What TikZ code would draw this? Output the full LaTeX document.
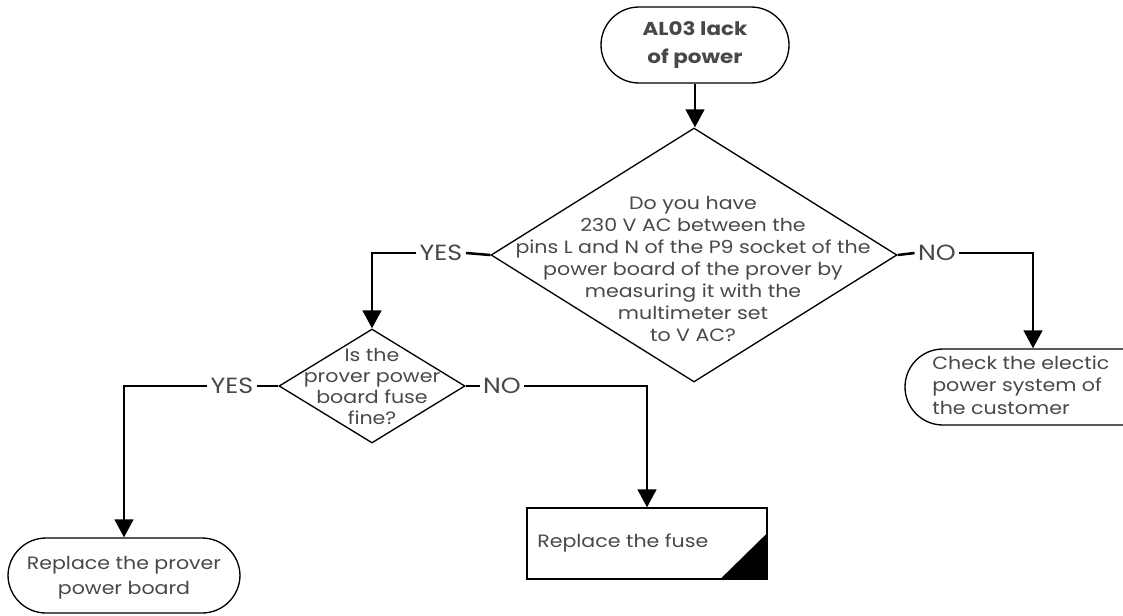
\documentclass[tikz,border=0pt]{standalone}
\usepackage{fontspec}
\setmainfont{Poppins}[FakeStretch=1.15]
\usetikzlibrary{shapes.geometric,arrows.meta}
\definecolor{txt}{HTML}{484848}
\begin{document}
\begin{tikzpicture}[x=0.75pt,y=-0.75pt,
  seg/.style={line width=1.9pt},
  conn/.style={line width=1.9pt,-{Triangle[width=14pt,length=13.5pt]}},
  term/.style={draw,line width=1pt,rectangle,rounded corners=28.5pt,inner sep=0pt},
  dia/.style={draw,line width=1pt,diamond,inner sep=0pt},
  boxst/.style={draw,line width=1pt,rectangle,inner sep=0pt},
  body/.style={text=txt,font=\fontsize{13.4}{15.75}\selectfont,align=center,inner sep=0pt},
  lbl/.style={text=txt,font=\fontsize{16.5}{18}\selectfont,inner xsep=2.5pt,inner ysep=0pt}
]
\useasboundingbox (0,0) rectangle (1123,615);
\clip (0,0) rectangle (1123,615);
% start
\node[term,minimum width=188*0.75pt,minimum height=76*0.75pt,
      text=txt,font=\bfseries\fontsize{14}{20.5}\selectfont,align=center] (start) at (695,45) {AL03 lack\\of power};
% big decision
\node[dia,minimum width=406*0.75pt,minimum height=254*0.75pt] (q1) at (694,255) {};
\node[body,font=\fontsize{13.4}{16.6}\selectfont] (q1t) at (693,269) {Do you have\\230 V AC between the\\pins L and N of the P9 socket of the\\power board of the prover by\\measuring it with the\\multimeter set\\to V AC?};
% small decision
\node[dia,minimum width=186*0.75pt,minimum height=114*0.75pt] (q2) at (372,386) {};
\node[body] (q2t) at (372,386) {Is the\\prover power\\board fuse\\fine?};
% right terminal
\node[term,minimum width=256*0.75pt,minimum height=76*0.75pt] (cust) at (1033,387) {};
\node[body,font=\fontsize{13.4}{17}\selectfont,align=left,anchor=west] (custt) at (932,385) {Check the electic\\power system of\\the customer};
% fuse box
\node[boxst,minimum width=240*0.75pt,minimum height=71*0.75pt] (fuse) at (647,543.5) {};
\fill (fuse.south east) -- ++(0,-47) -- ++(-48,47) -- cycle;
\node[body,anchor=west] (fuset) at (537,543) {Replace the fuse};
% board terminal
\node[term,minimum width=232*0.75pt,minimum height=75*0.75pt] (board) at (124,575.5) {};
\node[body,font=\fontsize{13.4}{18.75}\selectfont] (boardt) at (124,577.5) {Replace the prover\\power board};
% labels
\node[lbl] (yes1) at (441,253) {YES};
\node[lbl] (no1) at (937,253) {NO};
\node[lbl] (yes2) at (232,386) {YES};
\node[lbl] (no2) at (502,386) {NO};
% connectors
\draw[conn] (start.south) -- (start.south |- q1.north);
\draw[seg] (q1.west) -- (yes1.east);
\draw[conn] (yes1.west) -| (q2.north);
\draw[seg] (q1.east) -- (no1.west);
\draw[conn] (no1.east) -| (cust.north);
\draw[seg] (q2.west) -- (yes2.east);
\draw[conn] (yes2.west) -| (board.north);
\draw[seg] (q2.east) -- (no2.west);
\draw[conn] (no2.east) -| (fuse.north);
\end{tikzpicture}
\end{document}
